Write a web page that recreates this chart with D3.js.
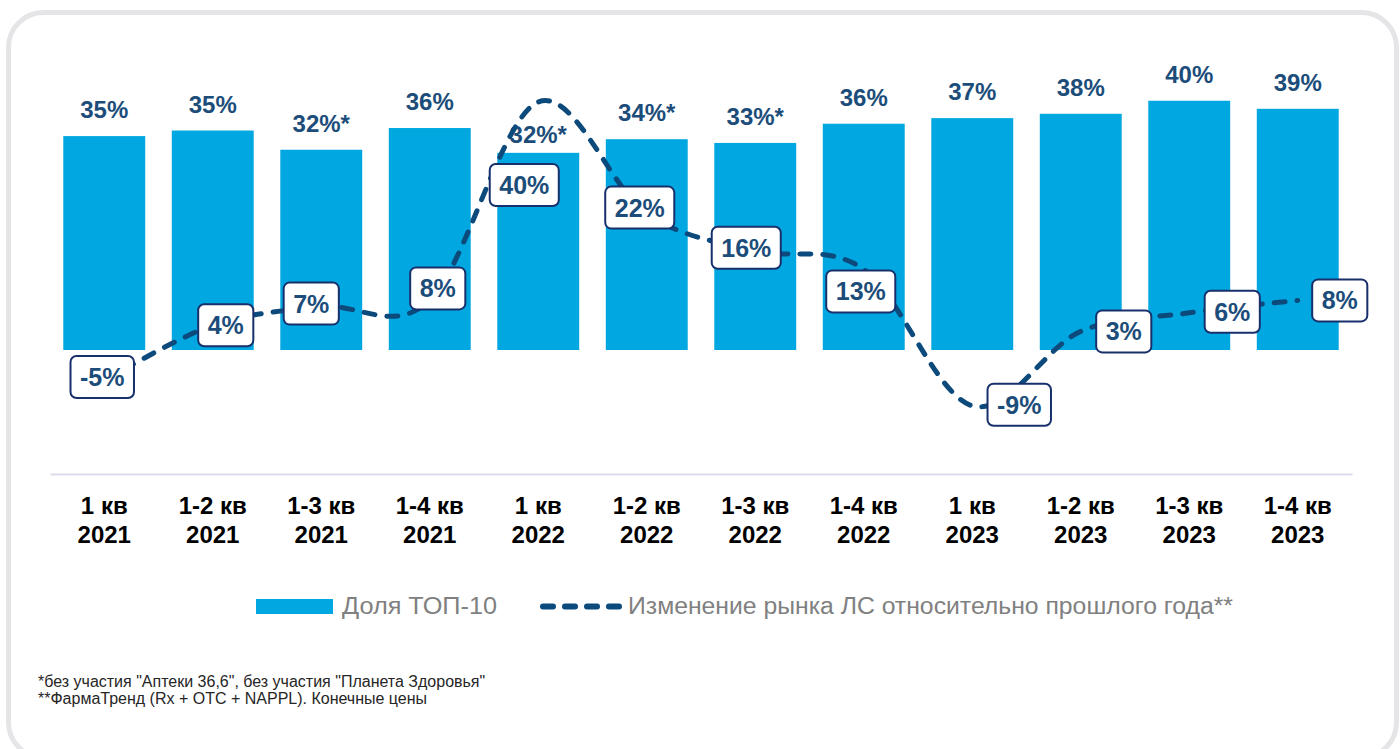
<!DOCTYPE html>
<html>
<head>
<meta charset="utf-8">
<script src="https://cdn.jsdelivr.net/npm/d3@7"></script>
<style>
  body { margin: 0; background: #fff; }
  text { font-family: "Liberation Sans", Arial, sans-serif; }
</style>
</head>
<body>
<div id="chart"></div>
<script>
// data
var quarters = ["1 кв", "1-2 кв", "1-3 кв", "1-4 кв", "1 кв", "1-2 кв", "1-3 кв", "1-4 кв", "1 кв", "1-2 кв", "1-3 кв", "1-4 кв"];
var years = ["2021", "2021", "2021", "2021", "2022", "2022", "2022", "2022", "2023", "2023", "2023", "2023"];
var top10Share = [34.5, 35.4, 32.3, 35.8, 31.8, 34.0, 33.4, 36.5, 37.4, 38.1, 40.2, 38.9];
var top10Labels = ["35%", "35%", "32%*", "36%", "32%*", "34%*", "33%*", "36%", "37%", "38%", "40%", "39%"];
var marketChange = [-5, 4, 7, 8, 40, 22, 16, 13, -9, 3, 6, 8];
var marketLabels = ["-5%", "4%", "7%", "8%", "40%", "22%", "16%", "13%", "-9%", "3%", "6%", "8%"];

// labels were dragged around by hand in the original, keep the nudges here
var labelNudge = [[-2, -4], [13, 0], [-10, -3], [8, -12], [-14, 83], [-7, -6],
                  [-9, -3], [-3, 22], [47, -1], [43, 0], [43, -1], [42, 0]];
var barLabelNudge = [0, 0, 0, 0, 8, 0, 0, 0, 0, 0, 0, 0];

var W = 1400, H = 749;
var barColor = "#00a7e1", lineColor = "#0d4a7c", labelColor = "#1c4d7a", boxStroke = "#17306c";

var svg = d3.select("#chart").append("svg")
    .attr("width", W)
    .attr("height", H);

// card border
svg.append("rect")
    .attr("x", 8.5).attr("y", 12.5)
    .attr("width", 1388).attr("height", 745)
    .attr("rx", 35)
    .attr("fill", "#fff")
    .attr("stroke", "#e5e5e8")
    .attr("stroke-width", 5);

var idx = d3.range(quarters.length);

var x = d3.scaleBand()
    .domain(idx)
    .range([50, 1352])
    .paddingInner(0.245)
    .paddingOuter(0.1225);

var y = d3.scaleLinear()
    .domain([-20, 45])
    .range([474, 71]);

function cx(i) { return x(i) + x.bandwidth() / 2; }

// bars
svg.selectAll(".bar")
    .data(idx)
    .enter().append("rect")
    .attr("class", "bar")
    .attr("x", function (i) { return x(i); })
    .attr("y", function (i) { return y(top10Share[i]); })
    .attr("width", x.bandwidth())
    .attr("height", function (i) { return y(0) - y(top10Share[i]); })
    .attr("fill", barColor);

svg.selectAll(".barLabel")
    .data(idx)
    .enter().append("text")
    .attr("class", "barLabel")
    .attr("x", cx)
    .attr("y", function (i) { return y(top10Share[i]) - 18 + barLabelNudge[i]; })
    .attr("text-anchor", "middle")
    .attr("font-size", 24)
    .attr("font-weight", "bold")
    .attr("fill", labelColor)
    .text(function (i) { return top10Labels[i]; });

// category axis
var axis = svg.append("g")
    .attr("transform", "translate(0," + y(-20) + ")")
    .call(d3.axisBottom(x).tickSize(0).tickSizeOuter(0).tickFormat(""));

axis.select(".domain")
    .attr("stroke", "#dedae9")
    .attr("stroke-width", 2);

axis.selectAll(".tick text").remove();
axis.selectAll(".tick").each(function (i) {
    var t = d3.select(this).append("text")
        .attr("text-anchor", "middle")
        .attr("font-size", 24)
        .attr("font-weight", "bold")
        .attr("fill", "#000");
    t.append("tspan").attr("x", 0).attr("y", 40).text(quarters[i]);
    t.append("tspan").attr("x", 0).attr("y", 69).text(years[i]);
});

// smoothed dashed line
var line = d3.line()
    .x(function (i) { return cx(i); })
    .y(function (i) { return y(marketChange[i]); })
    .curve(d3.curveCatmullRom.alpha(0));

svg.append("path")
    .datum(idx)
    .attr("d", line)
    .attr("fill", "none")
    .attr("stroke", lineColor)
    .attr("stroke-width", 5)
    .attr("stroke-linecap", "round")
    .attr("stroke-dasharray", "11 12");

// boxed labels for the line
var boxes = svg.selectAll(".lineLabel")
    .data(idx)
    .enter().append("g")
    .attr("class", "lineLabel")
    .attr("transform", function (i) {
        return "translate(" + (cx(i) + labelNudge[i][0]) + "," + (y(marketChange[i]) + labelNudge[i][1]) + ")";
    });

boxes.append("rect").attr("class", "box");
boxes.append("text")
    .attr("text-anchor", "middle")
    .attr("dy", "0.36em")
    .attr("font-size", 25)
    .attr("font-weight", "bold")
    .attr("fill", labelColor)
    .text(function (i) { return marketLabels[i]; });

boxes.each(function () {
    var g = d3.select(this);
    var w = g.select("text").node().getComputedTextLength() + 19;
    g.select("rect")
        .attr("x", -w / 2).attr("y", -21)
        .attr("width", w).attr("height", 42)
        .attr("rx", 6)
        .attr("fill", "#fff")
        .attr("stroke", boxStroke)
        .attr("stroke-width", 2);
});

// legend
var legend = svg.append("g");
legend.append("rect")
    .attr("x", 256).attr("y", 599)
    .attr("width", 77).attr("height", 15)
    .attr("fill", barColor);
legend.append("text")
    .attr("x", 342).attr("y", 614)
    .attr("font-size", 23)
    .attr("fill", "#808080")
    .attr("textLength", 155)
    .attr("lengthAdjust", "spacingAndGlyphs")
    .text("Доля ТОП-10");
legend.append("path")
    .attr("d", "M543,606.5H622")
    .attr("stroke", lineColor)
    .attr("stroke-width", 6)
    .attr("stroke-linecap", "round")
    .attr("stroke-dasharray", "10 12");
legend.append("text")
    .attr("x", 628).attr("y", 614)
    .attr("font-size", 23)
    .attr("fill", "#808080")
    .attr("textLength", 605)
    .attr("lengthAdjust", "spacingAndGlyphs")
    .text("Изменение рынка ЛС относительно прошлого года**");

// footnotes
var notes = ["*без участия \"Аптеки 36,6\", без участия \"Планета Здоровья\"",
             "**ФармаТренд (Rx + OTC + NAPPL). Конечные цены"];
svg.selectAll(".note")
    .data(notes)
    .enter().append("text")
    .attr("class", "note")
    .attr("x", 38)
    .attr("y", function (d, i) { return 687 + i * 17; })
    .attr("font-size", 16)
    .attr("fill", "#262626")
    .text(function (d) { return d; });
</script>
</body>
</html>
